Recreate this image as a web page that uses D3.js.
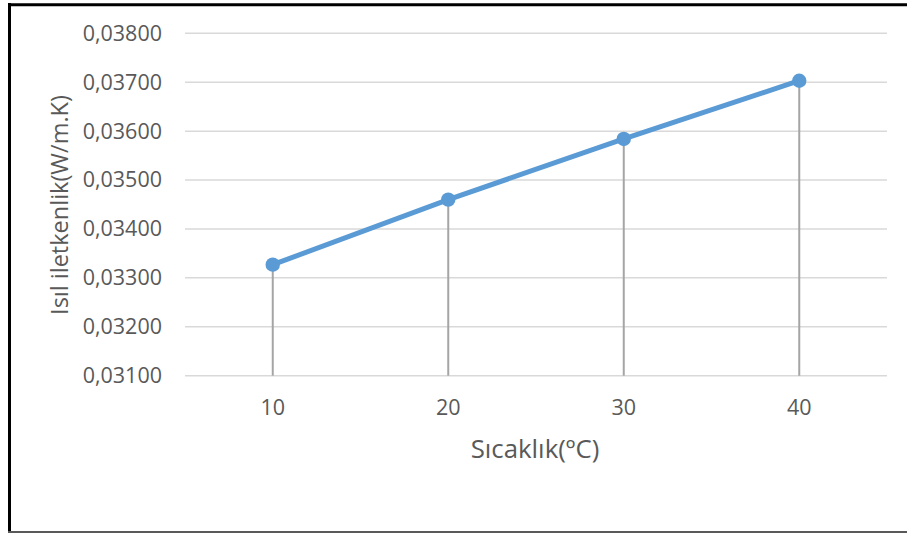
<!DOCTYPE html>
<html>
<head>
<meta charset="utf-8">
<script src="https://cdn.jsdelivr.net/npm/d3@7"></script>
<style>
  html, body { margin: 0; padding: 0; background: #fff; }
  svg { display: block; }
  text { font-family: "Open Sans", "Liberation Sans", sans-serif; fill: #595959; }
</style>
</head>
<body>
<svg id="chart" width="907" height="533"></svg>
<script>
// Thermal conductivity vs temperature
const temperatures = [10, 20, 30, 40];
const conductivity = [0.03327, 0.03460, 0.03584, 0.03703];
const yTicks = [0.031, 0.032, 0.033, 0.034, 0.035, 0.036, 0.037, 0.038];
const xTitle = "Sıcaklık(ºC)";
const yTitle = "Isıl iletkenlik(W/m.K)";

const svg = d3.select("#chart");
const W = 907, H = 533;
const plot = { left: 185, right: 887, top: 33.3, bottom: 375.7 };

// frame around the chart
svg.append("line").attr("x1", 8).attr("x2", W).attr("y1", 4.7).attr("y2", 4.7)
  .attr("stroke", "#000").attr("stroke-width", 3);
svg.append("line").attr("x1", 9.5).attr("x2", 9.5).attr("y1", 3).attr("y2", H)
  .attr("stroke", "#000").attr("stroke-width", 3);
svg.append("line").attr("x1", 8).attr("x2", W).attr("y1", 532).attr("y2", 532)
  .attr("stroke", "#595959").attr("stroke-width", 2);

const x = d3.scaleBand().domain(temperatures).range([plot.left, plot.right]);
const y = d3.scaleLinear().domain([0.031, 0.038]).range([plot.bottom, plot.top]);
const fmt = v => d3.format(".5f")(v).replace(".", ",");

// horizontal gridlines
svg.append("g").selectAll("line").data(yTicks).join("line")
  .attr("x1", plot.left).attr("x2", plot.right)
  .attr("y1", d => y(d)).attr("y2", d => y(d))
  .attr("stroke", "#d9d9d9").attr("stroke-width", 1.5);

// y axis labels
const yAxis = d3.axisLeft(y).tickValues(yTicks).tickFormat(fmt).tickSize(0).tickPadding(23);
const gy = svg.append("g").attr("transform", `translate(${plot.left},0)`).call(yAxis);
gy.select(".domain").remove();
gy.selectAll("text").attr("font-size", 21.5).attr("fill", "#595959")
  .style("font-family", "'Open Sans', sans-serif");

// x axis labels
const xAxis = d3.axisBottom(x).tickSize(0).tickPadding(24);
const gx = svg.append("g").attr("transform", `translate(0,${plot.bottom})`).call(xAxis);
gx.select(".domain").remove();
gx.selectAll("text").attr("font-size", 21.5).attr("fill", "#595959")
  .style("font-family", "'Open Sans', sans-serif");

const pts = temperatures.map((t, i) => ({ t, v: conductivity[i] }));
const cx = d => x(d.t) + x.bandwidth() / 2;

// drop lines
svg.append("g").selectAll("line").data(pts).join("line")
  .attr("x1", cx).attr("x2", cx)
  .attr("y1", d => y(d.v)).attr("y2", plot.bottom)
  .attr("stroke", "#a5a5a5").attr("stroke-width", 2);

// series line
svg.append("path").datum(pts)
  .attr("d", d3.line().x(cx).y(d => y(d.v)))
  .attr("fill", "none").attr("stroke", "#5b9bd5").attr("stroke-width", 5)
  .attr("stroke-linejoin", "round");

// markers
svg.append("g").selectAll("circle").data(pts).join("circle")
  .attr("cx", cx).attr("cy", d => y(d.v)).attr("r", 7.2)
  .attr("fill", "#5b9bd5");

// axis titles
svg.append("text").attr("x", 535).attr("y", 457.5).attr("text-anchor", "middle")
  .attr("font-size", 25.8).text(xTitle);
svg.append("text").attr("transform", "translate(68,205) rotate(-90)")
  .attr("text-anchor", "middle").attr("font-size", 23.5).text(yTitle);
</script>
</body>
</html>
